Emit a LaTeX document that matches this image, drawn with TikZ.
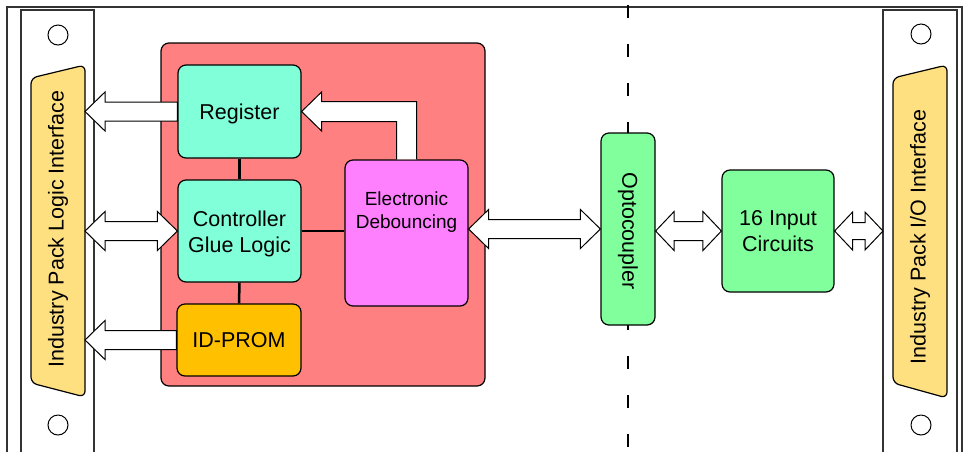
\documentclass[tikz,border=0pt]{standalone}
\usepackage{fontspec}
\setmainfont{Liberation Sans}
\usetikzlibrary{calc}
\definecolor{redbox}{HTML}{FF8080}
\definecolor{aqua}{HTML}{80FFD8}
\definecolor{prom}{HTML}{FFC000}
\definecolor{pinkbox}{HTML}{FF80FF}
\definecolor{greenbox}{HTML}{80FF9C}
\definecolor{connyel}{HTML}{FFE080}
\tikzset{
  blk/.style={draw=black, fill=white, line width=1pt, line join=miter},
  box/.style={draw=black, line width=1.2pt, rounded corners=8pt, inner sep=0pt, align=center,
     font=\fontsize{21.5}{26}\selectfont},
  wire/.style={line width=2.5pt},
  frame/.style={draw=black!80, line width=1.3pt},
  hole/.style={draw=black, fill=white, line width=1pt},
  conn/.style={draw=black, fill=connyel, line width=1.2pt, rounded corners=6pt},
  big/.style={font=\fontsize{21.5}{26}\selectfont},
  lbl/.style={big, align=center},
}
% double block arrow: #1 left tip, #2 right tip, #3 head length, #4 head half, #5 body half
\newcommand\dblarrow[5]{%
\draw[blk] let \p1=#1, \p2=#2 in (\x1,\y1) -- ({\x1+#3},{\y1+#4}) -- ({\x1+#3},{\y1+#5})
  -- ({\x2-#3},{\y1+#5}) -- ({\x2-#3},{\y1+#4}) -- (\x2,\y1) -- ({\x2-#3},{\y1-#4})
  -- ({\x2-#3},{\y1-#5}) -- ({\x1+#3},{\y1-#5}) -- ({\x1+#3},{\y1-#4}) -- cycle;}
% single block arrow pointing left: #1 tip, #2 tail
\newcommand\leftarrowblk[2]{%
\draw[blk] let \p1=#1, \p2=#2 in (\x1,\y1) -- ({\x1+20},{\y1+19.5}) -- ({\x1+20},{\y1+9.5})
  -- (\x2,{\y1+9.5}) -- (\x2,{\y1-9.5}) -- ({\x1+20},{\y1-9.5}) -- ({\x1+20},{\y1-19.5}) -- cycle;}
\begin{document}
\begin{tikzpicture}[x=1pt,y=-1pt]
\useasboundingbox (0,0) rectangle (965,451);
\clip (0,0) rectangle (965,451);
\fill[white] (0,0) rectangle (965,451);
% outer frame
\draw[frame] (7,480) -- (7,7) -- (962,7) -- (962,480);
% dashed separator
\draw[line width=1.3pt, dash pattern=on 13pt off 26pt] (628,5) -- (628,460);
% panels
\draw[frame, fill=white] (21,10) rectangle (94,480);
\draw[frame, fill=white] (883,10) rectangle (957,480);
\node[hole, circle, minimum size=20pt, inner sep=0pt] (h1) at (58,35) {};
\node[hole, circle, minimum size=20pt, inner sep=0pt] (h2) at (58,425) {};
\node[hole, circle, minimum size=20pt, inner sep=0pt] (h3) at (921,34) {};
\node[hole, circle, minimum size=20pt, inner sep=0pt] (h4) at (921,425) {};
% connectors
\path[conn] (31,78) -- (85,65) -- (85,397) -- (31,383) -- cycle;
\node[big, rotate=90] (lct) at (58,229) {Industry Pack Logic Interface};
\coordinate (lcE) at (85,231);
\path[conn] (893,78) -- (947,65) -- (947,398) -- (893,383) -- cycle;
\node[big, rotate=90] (rct) at (920,237) {Industry Pack I/O Interface};
\coordinate (rpW) at (883,231);
% red FPGA box
\node[box, fill=redbox, minimum width=324pt, minimum height=343pt] (fpga) at (323,214.5) {};
% blocks
\node[box, fill=aqua, minimum width=123pt, minimum height=93pt] (reg) at (239.5,111.5) {};
\node[lbl] (regt) at ($(reg.center)+(0,2.5)$) {Register};
\node[box, fill=aqua, minimum width=123pt, minimum height=102pt] (ctl) at (239.5,231) {};
\node[lbl] (ctlt) at ($(ctl.center)+(0,3)$) {Controller\\Glue Logic};
\node[box, fill=prom, minimum width=124pt, minimum height=72pt] (idp) at (239,340) {ID-PROM};
\node[box, fill=pinkbox, minimum width=123pt, minimum height=146pt] (deb) at (406.5,233) {};
\node[align=center, font=\fontsize{19}{23.5}\selectfont] (debt) at ($(deb.north)+(0,52.5)$) {Electronic\\Debouncing};
\node[box, fill=greenbox, minimum width=54pt, minimum height=192pt] (opto) at (628,229) {};
\node[big, rotate=-90] (optot) at ($(opto.center)+(0,2)$) {Optocoupler};
\node[box, fill=greenbox, minimum width=112pt, minimum height=122pt] (inp) at (778,231) {16 Input\\Circuits};
% wires
\draw[wire] (reg.south) -- (ctl.north);
\draw[wire] (ctl.south) -- (idp.north);
\draw[wire] (ctl.east) -- (deb.west |- ctl.east);
% block arrows
\leftarrowblk{(lcE |- reg.west)}{(reg.west)}
\dblarrow{(lcE |- ctl.west)}{(ctl.west)}{20}{19.5}{9.5}
\leftarrowblk{(lcE |- idp.west)}{(idp.west)}
\draw[blk] let \p1=(deb.north), \p2=(reg.east) in
  ({\x1-10},\y1) -- ({\x1-10},{\y2-10}) -- ({\x2+20},{\y2-10}) -- ({\x2+20},{\y2-19.5})
  -- (\x2,\y2) -- ({\x2+20},{\y2+19.5}) -- ({\x2+20},{\y2+10}) -- ({\x1+10},{\y2+10})
  -- ({\x1+10},\y1);
\dblarrow{(deb.east |- opto.west)}{(opto.west)}{20}{19.5}{9.5}
\dblarrow{(opto.east |- inp.west)}{(inp.west)}{18.5}{19.5}{9.5}
\dblarrow{(inp.east)}{(rpW |- inp.east)}{18}{19}{8.5}
\end{tikzpicture}
\end{document}
